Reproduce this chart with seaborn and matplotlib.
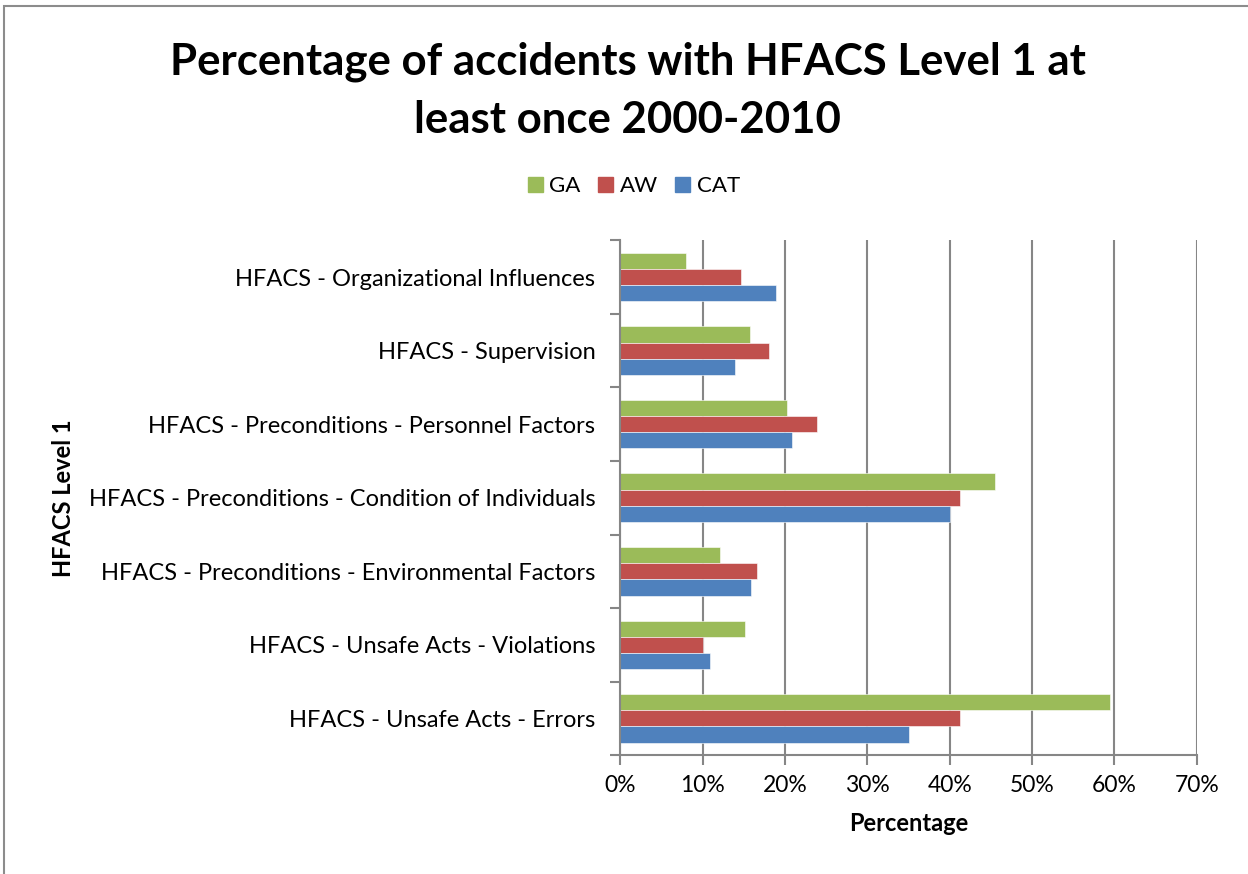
import numpy as np
import pandas as pd
import matplotlib
matplotlib.use("Agg")
import matplotlib.pyplot as plt
from matplotlib.patches import Rectangle
from matplotlib.ticker import FixedLocator, PercentFormatter
import seaborn as sns

# ── Data ──────────────────────────────────────────────────────
categories = [
    "HFACS - Organizational Influences",
    "HFACS - Supervision",
    "HFACS - Preconditions - Personnel Factors",
    "HFACS - Preconditions - Condition of Individuals",
    "HFACS - Preconditions - Environmental Factors",
    "HFACS - Unsafe Acts - Violations",
    "HFACS - Unsafe Acts - Errors",
]
series = ["GA", "AW", "CAT"]
ga_pct = [8.0, 15.7, 20.2, 45.5, 12.1, 15.2, 59.5]
aw_pct = [14.6, 18.0, 23.9, 41.3, 16.6, 10.0, 41.3]
cat_pct = [18.9, 13.9, 20.9, 40.0, 15.9, 10.9, 35.0]
x_ticks = [0, 10, 20, 30, 40, 50, 60, 70]

PALETTE = {"GA": "#9BBB59", "AW": "#C0504D", "CAT": "#4F81BD"}
GRID = "#868686"

df = pd.DataFrame({
    "category": categories * 3,
    "series": [s for s in series for _ in categories],
    "pct": ga_pct + aw_pct + cat_pct,
})

sns.set_theme(style="white")
plt.rcParams["font.family"] = ["Lato", "DejaVu Sans"]
plt.rcParams["text.color"] = "black"
plt.rcParams["axes.labelcolor"] = "black"
plt.rcParams["xtick.labelcolor"] = "black"
plt.rcParams["ytick.labelcolor"] = "black"

fig = plt.figure(figsize=(12.48, 8.74), dpi=100)
ax = fig.add_axes([0.497, 0.136, 0.462, 0.589])

sns.barplot(data=df, y="category", x="pct", hue="series",
            order=categories, hue_order=series, palette=PALETTE,
            width=0.66, saturation=1, orient="h", ax=ax, legend=False,
            edgecolor="white", linewidth=0.4)

# axes / grid
ax.set_xlim(0, 70)
ax.set_xticks(x_ticks)
ax.xaxis.set_major_formatter(PercentFormatter(decimals=0))
ax.grid(axis="x", color=GRID, linewidth=1.5)
ax.set_axisbelow(True)
for s in ["top", "right"]:
    ax.spines[s].set_visible(False)
for s in ["left", "bottom"]:
    ax.spines[s].set_color(GRID)
    ax.spines[s].set_linewidth(1.5)

ax.tick_params(axis="x", which="major", length=7, width=1.5, color=GRID,
               direction="out", labelsize=16.5, pad=7, bottom=True)
ax.tick_params(axis="y", which="major", length=0, labelsize=17, pad=18)
ax.yaxis.set_minor_locator(FixedLocator(np.arange(-0.5, len(categories), 1.0)))
ax.tick_params(axis="y", which="minor", length=7, width=1.5, color=GRID,
               direction="out", left=True)
ax.set_ylim(len(categories) - 0.5, -0.5)

ax.set_xlabel("Percentage", fontsize=17, fontweight="bold", labelpad=12)
ax.set_ylabel("HFACS Level 1", fontsize=17, fontweight="bold", labelpad=10)

# legend
handles = [Rectangle((0, 0), 1, 1, color=PALETTE[s]) for s in series]
fig.legend(handles, series, loc="center", bbox_to_anchor=(0.508, 0.787),
           ncol=3, frameon=False, fontsize=16, handlelength=0.65,
           handleheight=0.65, handletextpad=0.3, columnspacing=0.8)

fig.text(0.503, 0.896,
         "Percentage of accidents with HFACS Level 1 at\nleast once 2000-2010",
         ha="center", va="center", fontsize=31.5, fontweight="bold",
         linespacing=1.55)

# chart-area border (left and top edges only are visible)
fig.patches.append(Rectangle((0.0035, -0.5), 1.5, 1.493, transform=fig.transFigure,
                             fill=False, edgecolor="#8c8c8c", linewidth=1.5))

fig.savefig("out.png", dpi=100)
